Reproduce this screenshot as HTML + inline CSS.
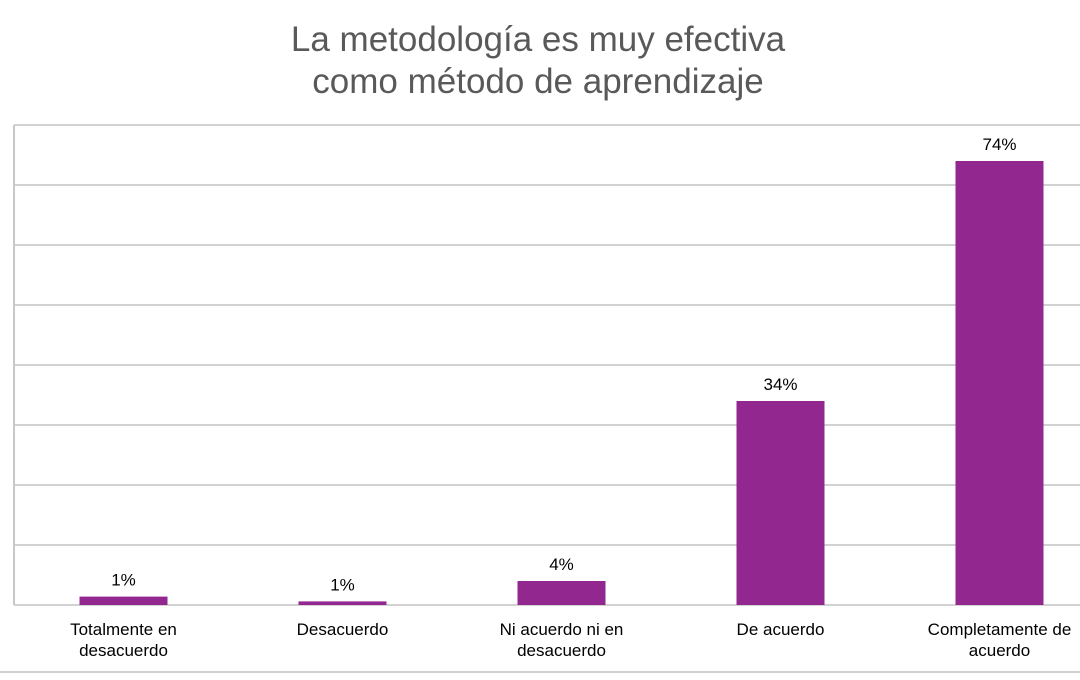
<!DOCTYPE html>
<html><head><meta charset="utf-8"><style>
body{margin:0;background:#fff;width:1080px;height:675px;overflow:hidden;font-family:"Liberation Sans",Arial,sans-serif}
</style></head><body>
<svg width="1080" height="675" xmlns="http://www.w3.org/2000/svg">
<text x="538" y="51" text-anchor="middle" font-size="35" fill="#595959">La metodología es muy efectiva</text>
<text x="538" y="93" text-anchor="middle" font-size="35" fill="#595959">como método de aprendizaje</text>
<line x1="0" y1="672" x2="1080" y2="672" stroke="#bfbfbf" stroke-width="1.5"/>
<g id="grid"></g>
<line x1="14" y1="125" x2="14" y2="605" stroke="#c8c8c8" stroke-width="2"/>
<g id="bars"></g>
</svg>
<script>
const categories=[["Totalmente en","desacuerdo"],["Desacuerdo"],["Ni acuerdo ni en","desacuerdo"],["De acuerdo"],["Completamente de","acuerdo"]];
const values=[1.4,0.6,4,34,74];
const labels=["1%","1%","4%","34%","74%"];
const gridTicks=[0,10,20,30,40,50,60,70,80];
const NS="http://www.w3.org/2000/svg";
const x0=14,bw=219,barW=88;
function y(v){return 605-v*6;}
function xc(i){return x0+bw*(i+0.5);}
const grid=document.getElementById('grid'),bars=document.getElementById('bars');
gridTicks.forEach(t=>{
 const l=document.createElementNS(NS,'line');
 
 
 l.setAttribute('x1',x0);l.setAttribute('x2',1080);l.setAttribute('y1',y(t));l.setAttribute('y2',y(t));
 l.setAttribute('stroke','#a6a6a6');l.setAttribute('stroke-width','1');
 grid.appendChild(l);
});
values.forEach((v,i)=>{
 const r=document.createElementNS(NS,'rect');
 
 
 r.setAttribute('x',xc(i)-barW/2);r.setAttribute('width',barW);
 r.setAttribute('y',y(v));r.setAttribute('height',605-y(v));r.setAttribute('fill','#92278f');
 bars.appendChild(r);
 const t=document.createElementNS(NS,'text');
 
 
 t.setAttribute('x',xc(i));t.setAttribute('y',y(v)-11);t.setAttribute('text-anchor','middle');
 t.setAttribute('font-size','17');t.setAttribute('fill','#000');
 t.textContent=labels[i];bars.appendChild(t);
 categories[i].forEach((s,j)=>{
  const c=document.createElementNS(NS,'text');
  
  
  c.setAttribute('x',xc(i));c.setAttribute('y',635+j*21);c.setAttribute('text-anchor','middle');
  c.setAttribute('font-size','17');c.setAttribute('fill','#000');
  c.textContent=s;bars.appendChild(c);
 });
});
</script>
</body></html>
